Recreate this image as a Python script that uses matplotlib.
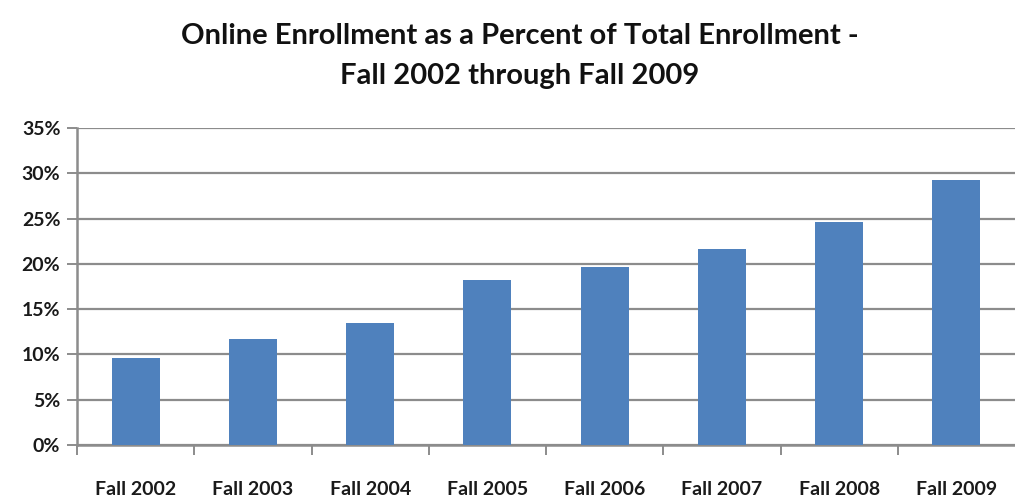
import numpy as np
import matplotlib.pyplot as plt
from matplotlib.ticker import FixedLocator, PercentFormatter

# Online enrollment share of total enrollment, by fall term
terms = ["Fall 2002", "Fall 2003", "Fall 2004", "Fall 2005",
         "Fall 2006", "Fall 2007", "Fall 2008", "Fall 2009"]
pct_online = [9.6, 11.7, 13.5, 18.2, 19.6, 21.6, 24.6, 29.3]
y_ticks = [0, 5, 10, 15, 20, 25, 30, 35]

plt.rcParams["font.family"] = ["Lato", "DejaVu Sans"]

fig = plt.figure(figsize=(10.15, 4.99), dpi=100)
ax = fig.add_axes([0.0759, 0.1082, 0.9241, 0.6353])

x = np.arange(len(terms))
ax.bar(x, pct_online, width=0.41, color="#4F81BD", zorder=3)

ax.set_xlim(-0.5, len(terms) - 0.5)
ax.set_ylim(0, 35)

ax.yaxis.set_major_locator(FixedLocator(y_ticks))
ax.yaxis.set_major_formatter(PercentFormatter(decimals=0))
ax.grid(axis="y", color="#8c8c8c", linewidth=1.6, zorder=0)

# category labels centred under bars, tick marks on the boundaries
ax.set_xticks(x)
ax.set_xticklabels(terms, fontsize=14, fontweight="bold", color="#1a1a1a")
ax.tick_params(axis="x", length=0, pad=26)
ax.set_xticks(np.arange(len(terms)) - 0.5, minor=True)
ax.tick_params(axis="x", which="minor", length=7, width=1.4, color="#8c8c8c")

ax.tick_params(axis="y", length=7, width=1.4, color="#8c8c8c",
               labelsize=14, pad=5, labelcolor="#1a1a1a")
for lbl in ax.get_yticklabels():
    lbl.set_fontweight("bold")

for side in ["top", "right"]:
    ax.spines[side].set_visible(False)
for side in ["left", "bottom"]:
    ax.spines[side].set_color("#8c8c8c")
    ax.spines[side].set_linewidth(1.8)

fig.text(0.512, 0.928, "Online Enrollment as a Percent of Total Enrollment -",
         ha="center", va="center", fontsize=21, fontweight="bold", color="#111111")
fig.text(0.512, 0.848, "Fall 2002 through Fall 2009",
         ha="center", va="center", fontsize=21, fontweight="bold", color="#111111")

fig.savefig("out.png", dpi=100)
